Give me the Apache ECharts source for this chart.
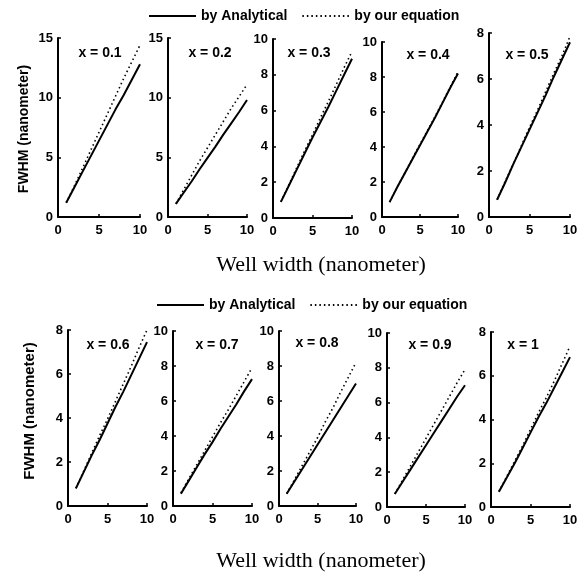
<!DOCTYPE html>
<html>
<head>
<meta charset="utf-8">
<script src="https://cdn.jsdelivr.net/npm/echarts@6/dist/echarts.min.js"></script>
<style>html,body{margin:0;padding:0;background:#fff}#c{width:584px;height:575px}</style>
</head>
<body>
<div id="c"></div>
<script>
// Well width (nanometer)
var widths = [1, 2, 3, 4, 5, 6, 7, 8, 9, 10];
var panelLabels = ['x = 0.1', 'x = 0.2', 'x = 0.3', 'x = 0.4', 'x = 0.5', 'x = 0.6', 'x = 0.7', 'x = 0.8', 'x = 0.9', 'x = 1'];
var yMax = [15, 15, 10, 10, 8, 8, 10, 10, 10, 8];
var yStep = [5, 5, 2, 2, 2, 2, 2, 2, 2, 2];

var analytical_x01 = [1.2, 2.5, 3.8, 5.1, 6.4, 7.7, 9.0, 10.2, 11.5, 12.8];
var equation_x01   = [1.2, 2.6, 4.1, 5.6, 7.1, 8.6, 10.1, 11.6, 13.0, 14.4];
var analytical_x02 = [1.1, 2.05, 3.0, 4.0, 4.95, 5.9, 6.9, 7.85, 8.8, 9.8];
var equation_x02   = [1.1, 2.3, 3.5, 4.7, 5.8, 6.9, 8.0, 9.1, 10.1, 11.1];
var analytical_x03 = [0.9, 1.8, 2.7, 3.6, 4.5, 5.35, 6.2, 7.1, 8.0, 8.9];
var equation_x03   = [0.9, 1.85, 2.8, 3.75, 4.65, 5.6, 6.5, 7.45, 8.4, 9.3];
var analytical_x04 = [0.85, 1.7, 2.5, 3.3, 4.1, 4.9, 5.7, 6.55, 7.4, 8.2];
var equation_x04   = [0.85, 1.7, 2.5, 3.35, 4.15, 4.95, 5.75, 6.6, 7.45, 8.3];
var analytical_x05 = [0.75, 1.5, 2.3, 3.05, 3.8, 4.55, 5.3, 6.1, 6.85, 7.6];
var equation_x05   = [0.75, 1.55, 2.3, 3.1, 3.9, 4.65, 5.45, 6.25, 7.0, 7.85];
var analytical_x06 = [0.8, 1.55, 2.3, 3.0, 3.75, 4.5, 5.2, 5.95, 6.7, 7.45];
var equation_x06   = [0.8, 1.6, 2.4, 3.2, 3.95, 4.75, 5.55, 6.35, 7.2, 8.0];
var analytical_x07 = [0.7, 1.45, 2.2, 2.95, 3.65, 4.4, 5.1, 5.8, 6.55, 7.25];
var equation_x07   = [0.75, 1.55, 2.35, 3.15, 3.95, 4.75, 5.5, 6.3, 7.1, 7.9];
var analytical_x08 = [0.7, 1.4, 2.1, 2.8, 3.5, 4.2, 4.9, 5.6, 6.3, 7.0];
var equation_x08   = [0.7, 1.5, 2.3, 3.1, 3.9, 4.8, 5.6, 6.5, 7.35, 8.2];
var analytical_x09 = [0.75, 1.45, 2.15, 2.85, 3.55, 4.25, 4.95, 5.65, 6.35, 7.0];
var equation_x09   = [0.75, 1.55, 2.35, 3.15, 3.95, 4.75, 5.55, 6.35, 7.15, 7.9];
var analytical_x10 = [0.7, 1.35, 2.0, 2.7, 3.4, 4.1, 4.75, 5.45, 6.15, 6.85];
var equation_x10   = [0.7, 1.4, 2.1, 2.8, 3.55, 4.3, 5.0, 5.75, 6.55, 7.35];

var analyticalAll = [analytical_x01, analytical_x02, analytical_x03, analytical_x04, analytical_x05,
                     analytical_x06, analytical_x07, analytical_x08, analytical_x09, analytical_x10];
var equationAll = [equation_x01, equation_x02, equation_x03, equation_x04, equation_x05,
                   equation_x06, equation_x07, equation_x08, equation_x09, equation_x10];

// layout (pixels)
var gLeft  = [58, 168, 273, 382, 489, 68, 173, 279, 387, 491];
var gRight = [140, 247, 352, 458, 570, 147, 252, 356, 465, 570];
var gTop   = [38, 38, 39, 42, 33, 330, 331, 331, 333, 332];
var gBot   = [217, 217, 218, 217, 217, 506, 506, 506, 507, 507];
var tPos = [[100, 53], [210, 53], [309, 53], [428, 55], [527, 55], [108, 345], [217, 345], [317, 343], [430, 345], [523, 345]];

var AN = 'by Analytical', EQ = 'by our equation';
var FONT = 'Liberation Sans, Arial, sans-serif';

function pairs(ys) { return widths.map(function (w, i) { return [w, ys[i]]; }); }

var grids = [], xAxes = [], yAxes = [], series = [], graphics = [];
for (var i = 0; i < 10; i++) {
  grids.push({ left: gLeft[i], top: gTop[i], width: gRight[i] - gLeft[i], height: gBot[i] - gTop[i], containLabel: false });
  xAxes.push({
    gridIndex: i, type: 'value', min: 0, max: 10, interval: 5,
    axisLine: { show: true, lineStyle: { color: '#000', width: 2 } },
    axisTick: { show: true, inside: true, length: 3, lineStyle: { color: '#000', width: 1.5 } },
    axisLabel: { color: '#000', fontSize: 13, fontWeight: 'bold', fontFamily: FONT, margin: 7 },
    splitLine: { show: false }
  });
  yAxes.push({
    gridIndex: i, type: 'value', min: 0, max: yMax[i], interval: yStep[i],
    axisLine: { show: true, onZero: false, lineStyle: { color: '#000', width: 2 } },
    axisTick: { show: true, inside: true, length: 3, lineStyle: { color: '#000', width: 1.5 } },
    axisLabel: { color: '#000', fontSize: 13, fontWeight: 'bold', fontFamily: FONT, margin: 5 },
    splitLine: { show: false }
  });
  series.push({
    name: AN, type: 'line', xAxisIndex: i, yAxisIndex: i, data: pairs(analyticalAll[i]),
    symbol: 'none', lineStyle: { color: '#000', width: 2 }, itemStyle: { color: '#000' }, z: 3
  });
  series.push({
    name: EQ, type: 'line', xAxisIndex: i, yAxisIndex: i, data: pairs(equationAll[i]),
    symbol: 'none', lineStyle: { color: '#000', width: 1.6, type: [1.5, 3] }, itemStyle: { color: '#000' }, z: 2
  });
  graphics.push({
    type: 'text', x: tPos[i][0], y: tPos[i][1],
    style: { text: panelLabels[i], fill: '#000', font: 'bold 14px ' + FONT, textAlign: 'center', textVerticalAlign: 'middle' }
  });
}

graphics.push({ type: 'text', x: 24, y: 129, rotation: Math.PI / 2,
  style: { text: 'FWHM (nanometer)', fill: '#000', font: 'bold 14px ' + FONT, textAlign: 'center', textVerticalAlign: 'middle' } });
graphics.push({ type: 'text', x: 30, y: 411, rotation: Math.PI / 2,
  style: { text: 'FWHM (nanometer)', fill: '#000', font: 'bold 15px ' + FONT, textAlign: 'center', textVerticalAlign: 'middle' } });
graphics.push({ type: 'text', x: 321, y: 265,
  style: { text: 'Well width (nanometer)', fill: '#000', font: '22px Liberation Serif, Times New Roman, serif', textAlign: 'center', textVerticalAlign: 'middle' } });
graphics.push({ type: 'text', x: 321, y: 561,
  style: { text: 'Well width (nanometer)', fill: '#000', font: '22px Liberation Serif, Times New Roman, serif', textAlign: 'center', textVerticalAlign: 'middle' } });

function mkLegend(left, top) {
  return {
    left: left, top: top, orient: 'horizontal', itemWidth: 47, itemHeight: 10, itemGap: 14,
    selectedMode: false, data: [AN, EQ], padding: 0,
    itemStyle: { opacity: 0 },
    textStyle: { color: '#000', fontSize: 14, fontWeight: 'bold', fontFamily: FONT, padding: [0, 0, 0, 0] }
  };
}

var chart = echarts.init(document.getElementById('c'), null, { renderer: 'canvas' });
chart.setOption({
  animation: false,
  backgroundColor: '#fff',
  legend: [mkLegend(148, 9), mkLegend(156, 298)],
  grid: grids, xAxis: xAxes, yAxis: yAxes, series: series, graphic: graphics
});
</script>
</body>
</html>
